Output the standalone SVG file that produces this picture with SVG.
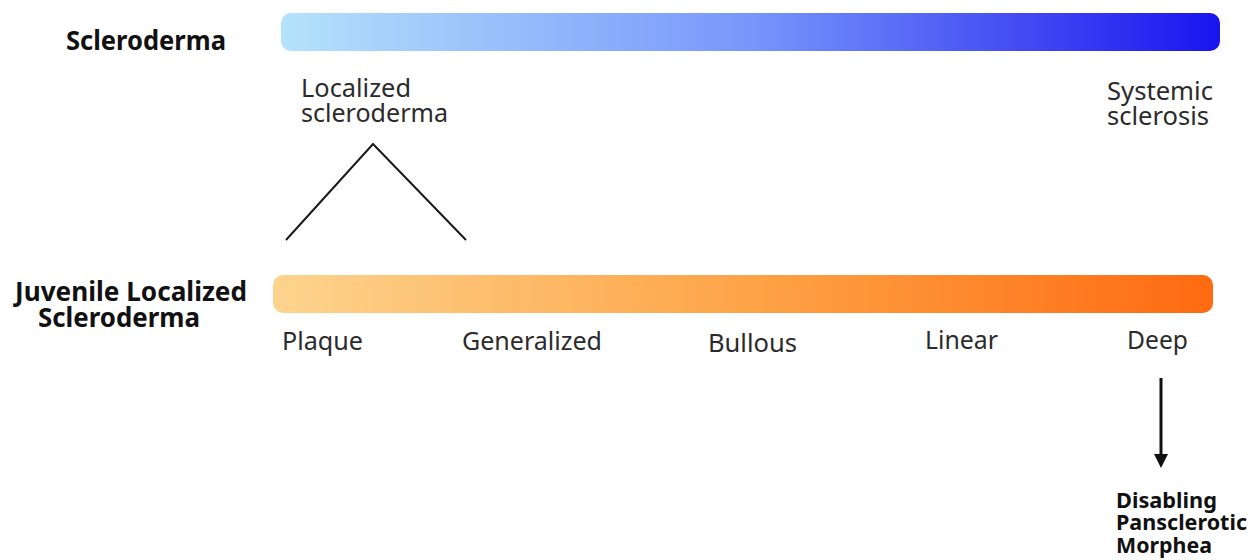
<svg xmlns="http://www.w3.org/2000/svg" width="1260" height="560" viewBox="0 0 1260 560">
<style>
.lbl{font-family:"Noto Sans","Open Sans",sans-serif;font-size:25px;fill:#2b2b2b}
.bold{font-family:"Noto Sans","Open Sans",sans-serif;font-weight:bold;font-size:26px;fill:#111}
.small{font-size:22px}
.line{stroke:#1a1a1a;stroke-width:2;fill:none}
</style>
<defs>
<linearGradient id="gBlue" x1="0" y1="0" x2="1" y2="0">
<stop offset="0" stop-color="#b5e2fb"/>
<stop offset="0.5" stop-color="#7896fb"/>
<stop offset="1" stop-color="#1a14ee"/>
</linearGradient>
<linearGradient id="gOrange" x1="0" y1="0" x2="1" y2="0">
<stop offset="0" stop-color="#fdd48e"/>
<stop offset="0.5" stop-color="#fea448"/>
<stop offset="1" stop-color="#ff6a10"/>
</linearGradient>
</defs>
<g id="scleroderma">
<rect x="281" y="13" width="939" height="38" rx="10" fill="url(#gBlue)"/>
<text class="bold" x="66" y="50" textLength="160" lengthAdjust="spacingAndGlyphs">Scleroderma</text>
</g>
<g id="localized">
<text class="lbl" x="301" y="97" textLength="110" lengthAdjust="spacingAndGlyphs">Localized</text>
<text class="lbl" x="301" y="122" textLength="147" lengthAdjust="spacingAndGlyphs">scleroderma</text>
</g>
<g id="systemic">
<text class="lbl" x="1107" y="100" textLength="106" lengthAdjust="spacingAndGlyphs">Systemic</text>
<text class="lbl" x="1107" y="125" textLength="102" lengthAdjust="spacingAndGlyphs">sclerosis</text>
</g>
<g id="jls">
<rect x="273" y="275" width="940" height="38" rx="10" fill="url(#gOrange)"/>
<text class="bold" x="15" y="301" textLength="232" lengthAdjust="spacingAndGlyphs">Juvenile Localized</text>
<text class="bold" x="38" y="327" textLength="162" lengthAdjust="spacingAndGlyphs">Scleroderma</text>
</g>
<g id="plaque"><text class="lbl" x="282" y="350" textLength="81" lengthAdjust="spacingAndGlyphs">Plaque</text></g>
<g id="generalized"><text class="lbl" x="462" y="350" textLength="140" lengthAdjust="spacingAndGlyphs">Generalized</text></g>
<g id="bullous"><text class="lbl" x="708" y="352" textLength="89" lengthAdjust="spacingAndGlyphs">Bullous</text></g>
<g id="linear"><text class="lbl" x="925" y="349" textLength="73" lengthAdjust="spacingAndGlyphs">Linear</text></g>
<g id="deep"><text class="lbl" x="1127" y="349" textLength="61" lengthAdjust="spacingAndGlyphs">Deep</text></g>
<g id="dpm">
<text class="bold small" x="1116" y="508" textLength="101" lengthAdjust="spacingAndGlyphs">Disabling</text>
<text class="bold small" x="1116" y="530" textLength="131" lengthAdjust="spacingAndGlyphs">Pansclerotic</text>
<text class="bold small" x="1116" y="553" textLength="96" lengthAdjust="spacingAndGlyphs">Morphea</text>
</g>
<g id="connectors">
<polyline class="line" points="286,240 373,144 466,240"/>
<line x1="1161" y1="378" x2="1161" y2="456" stroke="#111" stroke-width="3"/>
<path d="M1154,454 L1168,454 L1161,468 Z" fill="#111"/>
</g>
</svg>
